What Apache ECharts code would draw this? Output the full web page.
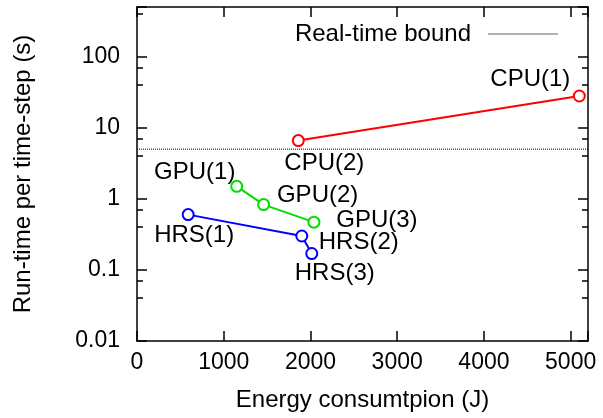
<!DOCTYPE html>
<html>
<head>
<meta charset="utf-8">
<script src="https://cdn.jsdelivr.net/npm/echarts@6/dist/echarts.min.js"></script>
<style>
html, body { margin: 0; padding: 0; background: #fff; }
#main { width: 603px; height: 418px; }
</style>
</head>
<body>
<div id="main"></div>
<script>
// 数据：能耗 (J) 与每步运行时间 (s)
var cpuNames = ['CPU(1)', 'CPU(2)'];
var cpuEnergy = [5100, 1860];
var cpuTime = [28, 6.6];

var gpuNames = ['GPU(1)', 'GPU(2)', 'GPU(3)'];
var gpuEnergy = [1150, 1460, 2040];
var gpuTime = [1.5, 0.83, 0.47];

var hrsNames = ['HRS(1)', 'HRS(2)', 'HRS(3)'];
var hrsEnergy = [590, 1900, 2015];
var hrsTime = [0.6, 0.3, 0.17];

var boundName = 'Real-time bound';
var boundValue = 5;
var xTicks = [0, 1000, 2000, 3000, 4000, 5000];

var font = 'Liberation Sans, Arial, sans-serif';
var mychart = echarts.init(document.getElementById('main'));

// 标签偏移 (相对于点)
var labelOffsets = {
    'CPU(1)': [-49, -17], 'CPU(2)': [26, 23],
    'GPU(1)': [-42, -14], 'GPU(2)': [54, -9], 'GPU(3)': [63, -2],
    'HRS(1)': [6, 21], 'HRS(2)': [57, 6], 'HRS(3)': [23, 20]
};

var makeSeries = function(names, xs, ys, color) {
    var data = [];
    for (var i = 0; i < names.length; i++) {
        data.push({
            name: names[i],
            value: [xs[i], ys[i]],
            label: { offset: labelOffsets[names[i]] }
        });
    }
    return {
        type: 'line',
        data: data,
        symbol: 'emptyCircle',
        symbolSize: 11,
        color: color,
        lineStyle: { color: color, width: 2 },
        itemStyle: { color: color, borderColor: color, borderWidth: 2 },
        label: {
            show: true,
            position: 'inside',
            formatter: function(p) { return p.name; },
            color: '#000',
            fontFamily: font,
            fontSize: 24
        },
        emphasis: { disabled: true },
        z: 3
    };
};

var axisLine = function() {
    return { show: true, onZero: false, lineStyle: { color: '#000', width: 1.5 } };
};
var tickStyle = function() {
    return { show: true, inside: true, length: 10, lineStyle: { color: '#000', width: 1.5 } };
};
var minorStyle = function() {
    return { show: true, splitNumber: 3, length: 6, lineStyle: { color: '#000', width: 1.5 } };
};

var option = {
    animation: false,
    backgroundColor: '#fff',
    grid: { left: 137, right: 15, top: 7, bottom: 77 },
    legend: {
        right: 40,
        top: 17,
        align: 'right',
        itemWidth: 70,
        itemHeight: 1,
        itemGap: 0,
        icon: 'rect',
        textStyle: { fontFamily: font, fontSize: 24, color: '#000', padding: [0, 12, 0, 0] },
        data: [{
            name: boundName,
            itemStyle: { color: '#666', borderWidth: 0 }
        }]
    },
    xAxis: [{
        type: 'value',
        min: 0,
        max: 5200,
        interval: 1000,
        name: 'Energy consumtpion (J)',
        nameLocation: 'middle',
        nameGap: 47,
        nameTextStyle: { fontFamily: font, fontSize: 24, color: '#000' },
        axisLine: axisLine(),
        axisTick: tickStyle(),
        axisLabel: {
            fontFamily: font, fontSize: 23, color: '#000', margin: 10,
            formatter: function(v) { return xTicks.indexOf(v) >= 0 ? String(v) : ''; }
        },
        splitLine: { show: false }
    }, {
        type: 'value',
        position: 'top',
        min: 0,
        max: 5200,
        interval: 1000,
        axisLine: axisLine(),
        axisTick: tickStyle(),
        axisLabel: { show: false },
        splitLine: { show: false }
    }],
    yAxis: [{
        type: 'log',
        logBase: 10,
        min: 0.01,
        max: 500,
        name: 'Run-time per time-step (s)',
        nameLocation: 'middle',
        nameGap: 102,
        nameTextStyle: { fontFamily: font, fontSize: 24, color: '#000' },
        axisLine: axisLine(),
        axisTick: tickStyle(),
        minorTick: minorStyle(),
        axisLabel: {
            fontFamily: font, fontSize: 23, color: '#000', margin: 17,
            showMaxLabel: false,
            formatter: function(v) { return v > 400 ? '' : String(+v.toPrecision(3)); }
        },
        splitLine: { show: false },
        minorSplitLine: { show: false }
    }, {
        type: 'log',
        logBase: 10,
        position: 'right',
        min: 0.01,
        max: 500,
        axisLine: axisLine(),
        axisTick: tickStyle(),
        minorTick: minorStyle(),
        axisLabel: { show: false },
        splitLine: { show: false }
    }],
    series: [{
        name: boundName,
        type: 'line',
        data: [[0, boundValue], [5200, boundValue]],
        symbol: 'none',
        color: '#666',
        lineStyle: { color: '#000', type: [1, 1], width: 1 },
        emphasis: { disabled: true },
        z: 2
    },
        makeSeries(cpuNames, cpuEnergy, cpuTime, '#ff0000'),
        makeSeries(gpuNames, gpuEnergy, gpuTime, '#00e000'),
        makeSeries(hrsNames, hrsEnergy, hrsTime, '#0000ff')
    ]
};

mychart.setOption(option);
</script>
</body>
</html>
